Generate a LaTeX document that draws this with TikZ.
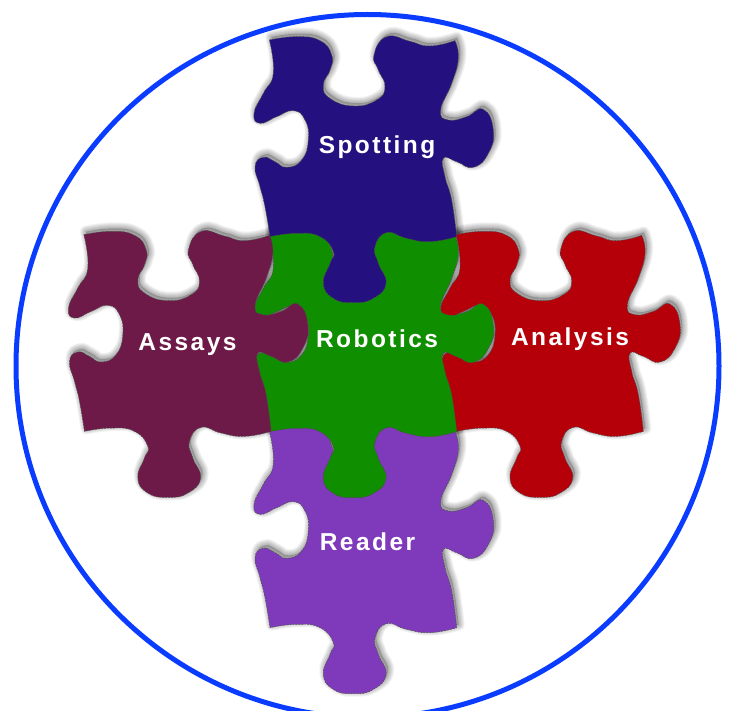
\documentclass[tikz,border=0pt]{standalone}
\usepackage{fontspec}
\newfontfamily\lblfont[LetterSpace=10]{Liberation Sans}
\definecolor{ringblue}{HTML}{0A3CFF}
\definecolor{cspot}{HTML}{24107F}
\definecolor{cassay}{HTML}{6E1A48}
\definecolor{crobot}{HTML}{0F8F00}
\definecolor{canaly}{HTML}{B5000A}
\definecolor{cread}{HTML}{7E3ABB}
\newcommand\pieceshape{%
 plot[smooth,tension=.85] coordinates {(118,60)(200,50)(270,62)(305,105)(300,150)(280,195)(300,235)(370,258)(440,240)(465,200)(445,150)(432,105)(470,50)(540,64)(600,78)(675,62)}
 -- plot[smooth,tension=.85] coordinates {(675,62)(685,115)(665,190)(632,270)(655,300)(710,290)(760,268)(790,330)(775,400)(730,442)(680,425)(640,415)(645,470)(665,540)(680,650)}
 -- plot[smooth,tension=.85] coordinates {(680,650)(600,665)(530,655)(470,638)(435,680)(445,730)(468,790)(430,835)(370,848)(310,835)(280,790)(300,730)(310,695)(270,650)(200,640)(120,650)}
 -- plot[smooth,tension=.85] coordinates {(120,650)(105,560)(90,500)(75,440)(100,412)(135,425)(170,442)(215,420)(235,360)(225,300)(190,272)(140,290)(90,310)(72,280)(100,220)(130,160)(118,60)}
 -- cycle}
\tikzset{
 piecescope/.style n args={2}{xshift=#1pt,yshift=-#2pt,x=.33333pt,y=-.33333pt},
 pieceline/.style={draw=black!70,line width=.5pt,dash pattern=on 2pt off 1pt,line join=round},
 lbl/.style={text=white,font=\lblfont\bfseries\fontsize{24.5}{26}\selectfont,inner sep=0pt,anchor=center}
}
\newcommand\pieceshadow[2]{%
 \begin{scope}[piecescope={#1+2}{#2+3}]
  \fill[black,fill opacity=.2] \pieceshape;
  \foreach \w in {12,10,8,6,4,2}{\draw[black,draw opacity=.05,line width=\w pt,line join=round] \pieceshape;}
 \end{scope}}
\newcommand\piece[3]{%
 \begin{scope}[piecescope={#1}{#2}]
  \fill[#3] \pieceshape;
  \draw[pieceline] \pieceshape;
 \end{scope}}
\begin{document}
\begin{tikzpicture}[x=1pt,y=-1pt]
\useasboundingbox (0,0) rectangle (729,711);
\clip (0,0) rectangle (729,711);
\fill[white] (0,0) rectangle (729,711);
\draw[ringblue,line width=5pt] (367.5,366) circle[radius=351.5pt];
\pieceshadow{230}{20}
\pieceshadow{44.5}{214.7}
\pieceshadow{416.7}{214.7}
\pieceshadow{230}{411}
\pieceshadow{230}{215}
\piece{416.7}{214.7}{canaly}
\piece{230}{411}{cread}
\piece{230}{215}{crobot}
\piece{230}{20}{cspot}
\piece{44.5}{214.7}{cassay}
\node[lbl] (spotting) at (377,147.5) {Spotting};
\node[lbl] (assays) at (187.5,344.5) {Assays};
\node[lbl] (robotics) at (377,339) {Robotics};
\node[lbl] (analysis) at (570,339.5) {Analysis};
\node[lbl] (reader) at (367.5,541.5) {Reader};
\end{tikzpicture}
\end{document}
